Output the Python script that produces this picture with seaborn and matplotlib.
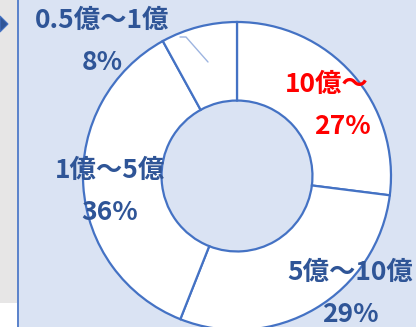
import matplotlib
matplotlib.use("Agg")
import matplotlib.pyplot as plt
import seaborn as sns
from matplotlib.patches import Rectangle, Polygon

sns.set_theme(style="white")
plt.rcParams['font.family'] = ['Noto Sans CJK JP', 'DejaVu Sans']

categories = ["10億～", "5億～10億", "1億～5億", "0.5億～1億"]
shares = [27, 29, 36, 8]
pct_labels = ["27%", "29%", "36%", "8%"]
label_colors = ["#FF0000", "#2F5597", "#2F5597", "#2F5597"]

W, H = 416, 327
BG = "#DAE3F3"
EDGE = "#4472C4"

fig = plt.figure(figsize=(W / 100, H / 100), dpi=100)
fig.patch.set_facecolor(BG)

# left side strip
fig.patches.append(Rectangle((0, 0), 17 / W, 1, transform=fig.transFigure,
                             facecolor="white", edgecolor="none", zorder=0))
fig.patches.append(Rectangle((0, (H - 303) / H), 17 / W, 303 / H, transform=fig.transFigure,
                             facecolor="#E7E6E6", edgecolor="none", zorder=0))
fig.lines.append(plt.Line2D([17.5 / W, 17.5 / W], [0, 1], transform=fig.transFigure,
                            color=EDGE, lw=1.2))
fig.patches.append(Polygon([(0, (H - 16) / H), (8 / W, (H - 24) / H), (0, (H - 32) / H)],
                           closed=True, transform=fig.transFigure,
                           facecolor="#2F5597", edgecolor="#4472C4", lw=0.8))
# faint leader line near the small slice
fig.lines.append(plt.Line2D([180 / W, 186 / W, 208 / W],
                            [(H - 37) / H, (H - 37) / H, (H - 62) / H],
                            transform=fig.transFigure, color="#9DB4E0", lw=1.0, zorder=5))

cx, cy, R = 237, 176, 154
ax = fig.add_axes([(cx - R) / W, (H - cy - R) / H, 2 * R / W, 2 * R / H])
ax.set_facecolor("none")
ax.axis("off")

pal = sns.color_palette(["#FFFFFF"] * len(shares))
ax.pie(shares, colors=pal, startangle=90, counterclock=False, radius=1,
       wedgeprops=dict(width=0.51, edgecolor=EDGE, linewidth=1.6))
ax.set_xlim(-1, 1)
ax.set_ylim(-1, 1)

def d(px, py):
    return (px - cx) / R, (cy - py) / R

name_pos = [(327, 84), (350, 272), (110, 170), (102, 20)]
pct_pos = [(342, 127), (350, 315), (110, 212), (102, 63)]
for name, pct, col, npos, ppos in zip(categories, pct_labels, label_colors, name_pos, pct_pos):
    x, y = d(*npos)
    ax.text(x, y, name, color=col, fontsize=19, fontweight="bold",
            ha="center", va="center", clip_on=False)
    x, y = d(*ppos)
    ax.text(x, y, pct, color=col, fontsize=19, fontweight="bold",
            ha="center", va="center", clip_on=False)

fig.savefig("out.png", dpi=100, facecolor=BG)
